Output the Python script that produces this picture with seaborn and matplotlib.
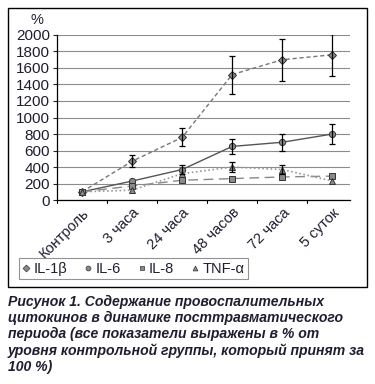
import matplotlib
matplotlib.use('Agg')
import matplotlib.pyplot as plt
import seaborn as sns
from matplotlib.patches import Rectangle
from matplotlib.lines import Line2D

# data
categories = ['Контроль', '3 часа', '24 часа', '48 часов', '72 часа', '5 суток']
il1b = [100, 470, 760, 1520, 1700, 1760]
il1b_err = [0, 70, 110, 230, 255, 255]
il6 = [100, 230, 370, 650, 700, 800]
il6_err = [0, 0, 50, 95, 105, 120]
il8 = [100, 170, 240, 260, 280, 290]
tnf = [100, 120, 320, 400, 370, 230]
tnf_err = [0, 0, 0, 65, 60, 0]

caption = ('Рисунок 1. Содержание провоспалительных\n'
           'цитокинов в динамике посттравматического\n'
           'периода (все показатели выражены в % от\n'
           'уровня контрольной группы, который принят за\n'
           '100 %)')

sns.set_style('white')
plt.rcParams['font.family'] = ['Liberation Sans', 'DejaVu Sans']
txt = '#1e1e30'

fig = plt.figure(figsize=(3.75, 3.84), dpi=100)
ax = fig.add_axes([0.152, 0.479, 0.781, 0.430])

x = list(range(len(categories)))
series = [
    ('IL-1β', il1b, il1b_err, 'D', (0, (3, 2)), '#777777', 1.0, 4.5),
    ('IL-6', il6, il6_err, 'o', '-', '#555555', 1.0, 4.5),
    ('IL-8', il8, None, 's', (0, (7, 4)), '#888888', 1.0, 4.2),
    ('TNF-α', tnf, tnf_err, '^', (0, (1, 1.5)), '#999999', 1.2, 4.5),
]

for name, vals, err, mk, ls, col, lw, ms in series:
    sns.lineplot(x=x, y=vals, ax=ax, color=col, linestyle=ls, linewidth=lw,
                 marker=mk, markersize=ms, markerfacecolor='#8a8a8a',
                 markeredgecolor='#333333', markeredgewidth=0.7, zorder=3)
    if err is not None:
        xs = [i for i, e in zip(x, err) if e > 0]
        ys = [v for v, e in zip(vals, err) if e > 0]
        es = [e for e in err if e > 0]
        ax.errorbar(xs, ys, yerr=es, fmt='none', ecolor='black',
                    elinewidth=0.9, capsize=2.5, capthick=0.9, zorder=4)

ax.set_xlim(-0.5, 5.35)
ax.set_ylim(0, 2000)
ax.set_yticks(range(0, 2001, 200))
ax.set_yticklabels([str(v) for v in range(0, 2001, 200)], fontsize=11, color=txt)
ax.set_xticks(x)
ax.set_xticklabels(categories, rotation=45, ha='right', rotation_mode='anchor',
                   fontsize=10.5, color=txt)
ax.tick_params(axis='x', length=0, pad=4)
ax.tick_params(axis='y', length=3, pad=2, direction='out', left=True)
# tick marks between categories
for b in [-0.5, 0.5, 1.5, 2.5, 3.5, 4.5]:
    ax.plot([b, b], [0, -40], color='black', lw=0.8, clip_on=False)
ax.grid(axis='y', color='#8c8c8c', linewidth=0.8)
ax.set_axisbelow(True)
for s in ['top', 'right']:
    ax.spines[s].set_visible(False)
ax.spines['left'].set_color('black')
ax.spines['bottom'].set_color('black')
ax.spines['left'].set_linewidth(0.9)
ax.spines['bottom'].set_linewidth(0.9)
ax.set_xlabel('')
ax.set_ylabel('')
fig.text(37 / 375, 1 - 20 / 384, '%', fontsize=10.5, color=txt, ha='center', va='center')

handles = [Line2D([], [], linestyle='none', marker=mk, markersize=3.5,
                  markerfacecolor='#8a8a8a', markeredgecolor='#333333',
                  markeredgewidth=0.5) for _, _, _, mk, *_ in series]
labels = [s[0] for s in series]
leg = fig.legend(handles, labels, loc='center', bbox_to_anchor=(0.357, 0.30),
                 ncol=4, fontsize=10.5, frameon=True, fancybox=False,
                 handlelength=0.4, handletextpad=0.3, columnspacing=1.25,
                 borderpad=0.25, labelcolor=txt)
leg.get_frame().set_edgecolor('#777777')
leg.get_frame().set_linewidth(0.8)

fig.patches.append(Rectangle((8 / 375, 1 - 287 / 384), 359 / 375, 279 / 384,
                             transform=fig.transFigure, fill=False,
                             edgecolor='black', linewidth=1.0))

fig.text(8 / 375, 1 - 295 / 384, caption, ha='left', va='top', fontsize=10.1,
         fontweight='bold', fontstyle='italic', color=txt, linespacing=1.18)

fig.savefig('out.png', dpi=100)
